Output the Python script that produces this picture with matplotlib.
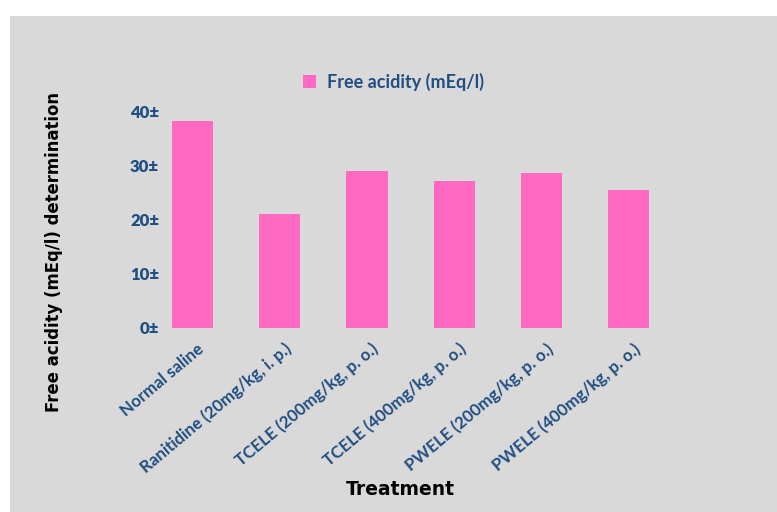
import matplotlib
matplotlib.use("Agg")
import matplotlib.pyplot as plt
from matplotlib.patches import Rectangle
from matplotlib.transforms import ScaledTranslation

categories = [
    "Normal saline",
    "Ranitidine (20mg/kg, i. p.)",
    "TCELE (200mg/kg, p. o.)",
    "TCELE (400mg/kg, p. o.)",
    "PWELE (200mg/kg, p. o.)",
    "PWELE (400mg/kg, p. o.)",
]
free_acidity = [38.2, 21.1, 29.0, 27.1, 28.6, 25.4]
y_ticks = [0, 10, 20, 30, 40]
y_tick_labels = ["0±", "10±", "20±", "30±", "40±"]
series_name = "Free acidity (mEq/l)"

BG = "#d9d9d9"
PINK = "#ff69c1"
BLUE = "#1f4e82"

plt.rcParams["font.family"] = ["Lato", "DejaVu Sans"]

fig = plt.figure(figsize=(7.77, 5.12), dpi=100, facecolor="white")
fig.patches.append(Rectangle((10 / 777, 0), 1 - 10 / 777, 1 - 16 / 512,
                             transform=fig.transFigure, facecolor=BG,
                             edgecolor="none", zorder=-10))

ax = fig.add_axes([0.1914, 0.3594, 0.6741, 0.4238])
ax.set_facecolor("none")
x = range(len(categories))
bars = ax.bar(x, free_acidity, width=0.473, color=PINK, label=series_name)

ax.set_xlim(-0.5, len(categories) - 0.5)
ax.set_ylim(0, 40)
ax.set_yticks(y_ticks)
ax.set_yticklabels(y_tick_labels, color=BLUE, fontsize=12, fontweight="heavy")
ax.set_xticks(list(x))
ax.set_xticklabels(categories, rotation=40, ha="right", rotation_mode="anchor",
                   color=BLUE, fontsize=12.2, fontweight="bold")
ax.tick_params(axis="both", length=0)
ax.tick_params(axis="y", pad=-7.5)
ax.tick_params(axis="x", pad=9)
shift = ScaledTranslation(4 / 100, 0, fig.dpi_scale_trans)
for lbl in ax.get_xticklabels():
    lbl.set_transform(lbl.get_transform() + shift)
for s in ax.spines.values():
    s.set_visible(False)

label_font = ["DejaVu Sans"]
ax.set_xlabel("Treatment", fontsize=13.5, fontweight="bold", color="black",
              labelpad=0, family=label_font)
ax.xaxis.set_label_coords(0.48, -0.7)
ax.set_ylabel("Free acidity (mEq/l) determination", fontsize=11.9,
              fontweight="bold", color="black", family=label_font)
ax.yaxis.set_label_coords(-0.164, 0.35)

fig.legend(handles=[bars], labels=[series_name], loc="center",
           bbox_to_anchor=(393.5 / 777, 1 - 82 / 512), frameon=False,
           prop={"size": 13, "weight": "bold", "family": "Lato"}, labelcolor=BLUE,
           handlelength=0.7, handleheight=0.7, handletextpad=0.6)

fig.savefig("out.png", dpi=100, facecolor="white")
